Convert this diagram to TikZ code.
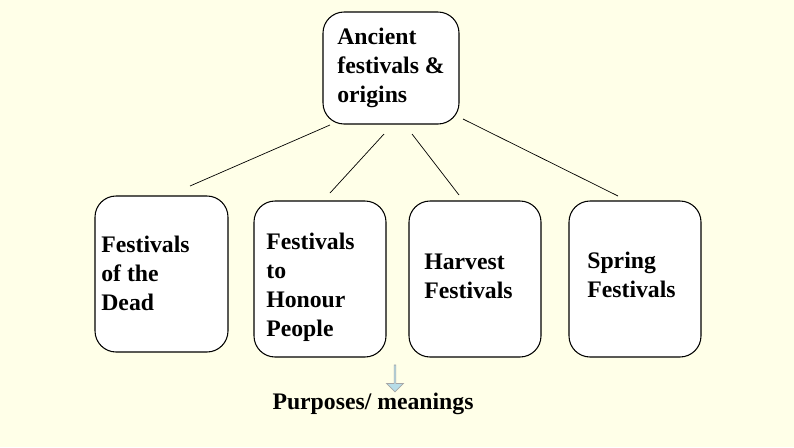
\documentclass[tikz,border=0pt]{standalone}
\usepackage{fontspec}
\setmainfont{Liberation Serif}
\usetikzlibrary{shapes.arrows}
\definecolor{paper}{HTML}{FFFFE8}
\definecolor{arrowfill}{HTML}{B7DDE8}
\tikzset{
  topicbox/.style={draw, rounded corners=12pt, line width=0.6pt, fill=white},
  topictext/.style={align=left, font=\bfseries\fontsize{13.5}{16.5}\selectfont, inner sep=0pt}
}
\begin{document}
\begin{tikzpicture}[x=0.02cm, y=-0.02cm]
    \fill [paper] (0, 0) rectangle (794, 447);
    \useasboundingbox (0, 0) rectangle (794, 447);

    \draw [topicbox] (323, 12) rectangle (459, 124);
    \node [topictext, anchor=west] (ancient) at (337, 68) {Ancient\\festivals \&\\origins};

    \draw [topicbox] (95, 196) rectangle (228, 352);
    \node [topictext, anchor=west] (dead) at (101, 273) {Festivals\\of the\\Dead};

    \draw [topicbox] (254, 201) rectangle (386, 357);
    \node [topictext, anchor=west] (honour) at (266, 287) {Festivals\\to\\Honour\\People};

    \draw [topicbox] (409, 201) rectangle (541, 357);
    \node [topictext, anchor=west] (harvest) at (424, 276) {Harvest\\Festivals};

    \draw [topicbox] (569, 201) rectangle (701, 357);
    \node [topictext, anchor=west] (spring) at (587, 275) {Spring\\Festivals};

    \coordinate (a1) at (330, 125); \coordinate (b1) at (190, 186);
    \coordinate (a2) at (384, 134); \coordinate (b2) at (330, 193);
    \coordinate (a3) at (412, 134); \coordinate (b3) at (459, 195);
    \coordinate (a4) at (463, 119); \coordinate (b4) at (618, 196);
    \draw [line width=0.4pt] (a1) -- (b1);
    \draw [line width=0.4pt] (a2) -- (b2);
    \draw [line width=0.4pt] (a3) -- (b3);
    \draw [line width=0.4pt] (a4) -- (b4);

    \node [single arrow, shape border rotate=270, draw=gray!70, fill=arrowfill,
           minimum width=0.34cm, minimum height=0.54cm, single arrow head extend=0.06cm,
           inner sep=0pt] (down) at (395, 378) {};
    \node [topictext] (purpose) at (373, 404) {Purposes/ meanings};
\end{tikzpicture}
\end{document}
